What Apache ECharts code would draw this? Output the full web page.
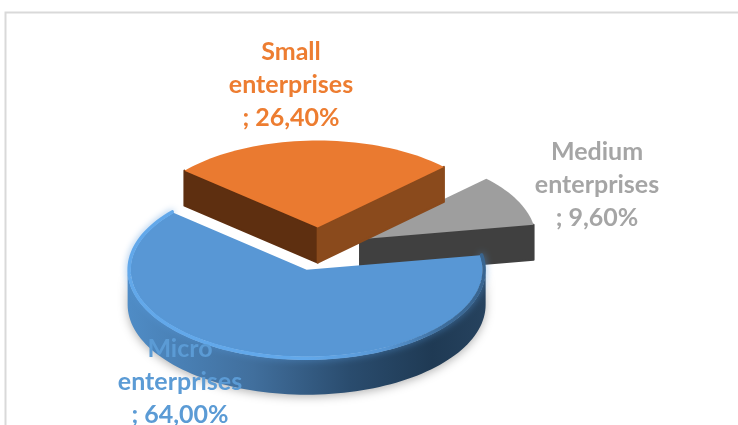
<!DOCTYPE html>
<html>
<head>
<meta charset="utf-8">
<style>html,body{margin:0;padding:0;background:#fff}#chart{width:738px;height:425px}</style>
<script src="https://cdn.jsdelivr.net/npm/echarts@6/dist/echarts.min.js"></script>
</head>
<body>
<div id="chart"></div>
<script>
// Enterprise size shares, in percent, clockwise from the first slice
const categories = ['Micro enterprises', 'Small enterprises', 'Medium enterprises'];
const shares = [64.0, 26.4, 9.6];

// Tilted-disc geometry, in pixels and degrees
const DISC = { cx: 319, cy: 249, rx: 176, ry: 87, depth: 35, bevel: 3, explodeX: 46, explodeY: 21.5, startAngle: 9.6 };

// Appearance per slice, same order as the data
const topColors = ['#5897d5', '#ea7a30', '#9e9e9e'];
const startWallColors = ['#2a4a6a', '#5e2f10', '#404040'];
const endWallColors = ['#2a4a6a', '#8a4a1c', '#404040'];
const labelColors = ['#5b9bd5', '#ed7d31', '#a5a5a5'];
const labelCentres = [[180, 382], [291, 85], [597, 185]];
const stacking = [3, 2, 1];

const total = shares.reduce((a, b) => a + b, 0);
const rad = d => d * Math.PI / 180;

function sliceAngles(index) {
  let from = DISC.startAngle;
  for (let i = 0; i < index; i++) from -= shares[i] / total * 360;
  return [from, from - shares[index] / total * 360];
}

function arcPoints(ox, oy, a0, a1, dy, grow) {
  const n = Math.max(2, Math.ceil(Math.abs(a0 - a1) / 2));
  const pts = [];
  for (let i = 0; i <= n; i++) {
    const a = rad(a0 + (a1 - a0) * i / n);
    pts.push([ox + (DISC.rx + grow) * Math.cos(a), oy - (DISC.ry + grow) * Math.sin(a) + dy]);
  }
  return pts;
}

function wallGradient() {
  return new echarts.graphic.LinearGradient(0, 0, 1, 0, [
    { offset: 0, color: '#4f8cc6' },
    { offset: 0.35, color: '#416f9d' },
    { offset: 0.62, color: '#2a4c6e' },
    { offset: 0.85, color: '#1f3a54' },
    { offset: 1, color: '#26425e' }
  ]);
}

function rimGradient() {
  return new echarts.graphic.LinearGradient(0, 0, 1, 0, [
    { offset: 0, color: '#62a8ea' },
    { offset: 0.5, color: '#62a8ea' },
    { offset: 0.72, color: '#5897d5' },
    { offset: 0.88, color: '#3d6d9c' },
    { offset: 1, color: '#38648f' }
  ]);
}

// A straight edge shows its wall when the slice lies above it on screen
function wallFaces(ox, oy, p, inner) {
  const ex = p[0] - ox, ey = p[1] - oy;
  return inner[1] - oy < ey / ex * (inner[0] - ox);
}

function renderSlice(params, api) {
  const i = params.dataIndex;
  const [a0, a1] = sliceAngles(i);
  const mid = rad((a0 + a1) / 2);
  const ox = DISC.cx + DISC.explodeX * Math.cos(mid);
  const oy = DISC.cy - DISC.explodeY * Math.sin(mid);
  const d = DISC.depth;
  const z = stacking[i] * 10;
  const outer = arcPoints(ox, oy, a0, a1, 0, 0);
  const inner = outer[Math.floor(outer.length / 2)];
  const children = [];

  // Radial walls below the two straight edges, with softened corners
  const wall = (p, color, z2) => {
    if (wallFaces(ox, oy, p, inner)) {
      children.push({
        type: 'polygon', z2,
        shape: { points: [[ox, oy], p, [p[0], p[1] + d], [ox, oy + d]] },
        style: { fill: color, stroke: color, lineWidth: 2, lineJoin: 'round' }
      });
    }
  };
  wall(outer[0], startWallColors[i], z);
  wall(outer[outer.length - 1], endWallColors[i], z + 1);

  // Curved wall, only where the rim faces the viewer
  const lo = Math.max(a1, -180), hi = Math.min(a0, 0);
  const front = lo < hi;
  if (front) {
    const g = DISC.bevel;
    const upper = arcPoints(ox, oy, lo, hi, 0, g);
    const lower = arcPoints(ox, oy, hi, lo, d, g);
    children.push({
      type: 'polygon', z2: z + 2,
      shape: { points: upper.concat(lower) },
      style: { fill: wallGradient(), shadowBlur: 10, shadowColor: 'rgba(0,0,0,0.3)', shadowOffsetY: 2 }
    });
  }

  // Top face
  children.push({
    type: 'polygon', z2: z + 3,
    shape: { points: [[ox, oy]].concat(outer) },
    style: { fill: topColors[i] }
  });

  // Bevelled rim along the whole outer edge of the front slice
  if (front) {
    children.push({
      type: 'polyline', z2: z + 4,
      shape: { points: arcPoints(ox, oy, a0, a1, 0, 1.5) },
      style: { fill: null, stroke: rimGradient(), lineWidth: 3.5, lineCap: 'round', shadowBlur: 7, shadowColor: 'rgba(85,150,215,0.75)' }
    });
  }

  // Data label: category name over two lines, then the share
  const words = categories[i].split(' ');
  const pct = api.value(0).toFixed(2).replace('.', ',') + '%';
  children.push({
    type: 'text', z2: 100,
    style: {
      text: words[0] + '\n' + words[1] + '\n; ' + pct,
      x: labelCentres[i][0], y: labelCentres[i][1],
      align: 'center', verticalAlign: 'middle',
      fill: labelColors[i], font: 'bold 25px Lato', lineHeight: 33
    }
  });

  return { type: 'group', children };
}

const chart = echarts.init(document.getElementById('chart'), null, { renderer: 'canvas' });
chart.setOption({
  animation: false,
  backgroundColor: '#ffffff',
  graphic: [{
    type: 'polyline',
    shape: { points: [[5.5, 425], [5.5, 12.5], [738, 12.5]] },
    style: { fill: null, stroke: '#d9d9d9', lineWidth: 2 }
  }],
  series: [{
    type: 'custom',
    coordinateSystem: 'none',
    renderItem: renderSlice,
    data: shares.map((v, i) => ({ name: categories[i], value: [v] }))
  }]
});
</script>
</body>
</html>
